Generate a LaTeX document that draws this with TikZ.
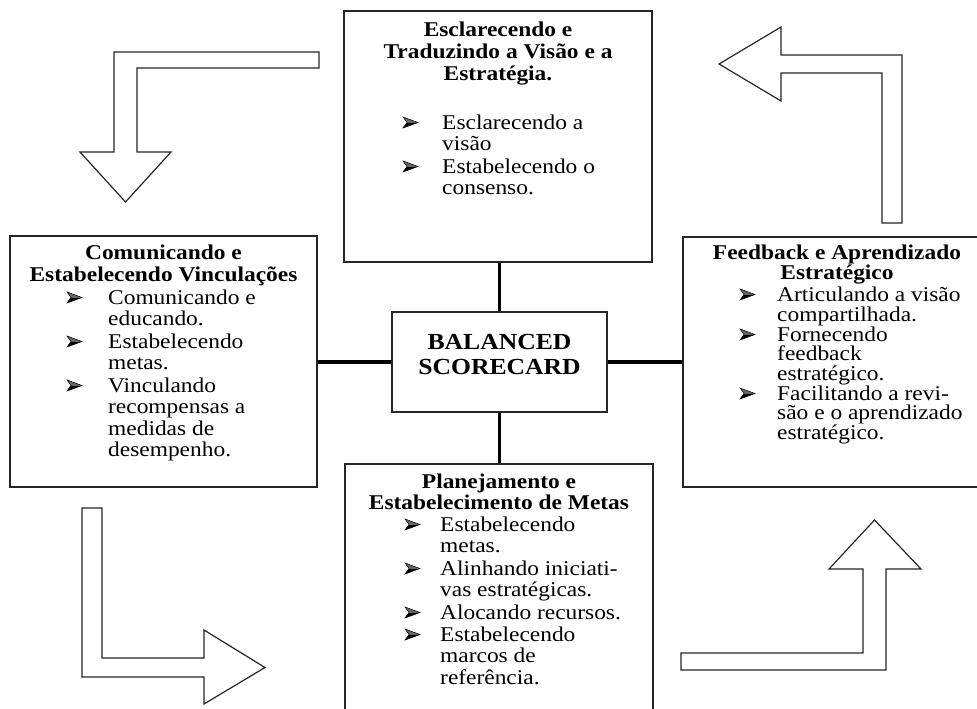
\documentclass[tikz,border=0pt]{standalone}
\usepackage{fontspec}
\setmainfont{Liberation Serif}[FakeStretch=1.115]
\newcommand{\bodyfont}{\fontsize{21}{22}\selectfont}
\newcommand{\bigfont}{\fontsize{23}{25}\selectfont\bfseries}
\newcommand{\bodylines}[3]{%
  \foreach \myy/\mytext [count=\i] in {#3}
    \node[txt] (#1\i) at (#2,\myy) {\mytext};}
\newcommand{\bulletmarks}[2]{%
  \foreach \myy in {#2}
    \pic at (#1,\myy-6.5) {dart};}
\newcommand{\titlelines}[3]{%
  \foreach \myy/\mytext [count=\i] in {#3}
    \node[ttl] (#1\i) at (#2,\myy) {\mytext};}
\begin{document}
\begin{tikzpicture}[x=1pt,y=-1pt,
  box/.style={draw=black!85, line width=1.1pt, rectangle, inner sep=0pt},
  link/.style={draw=black, line width=3.2pt},
  bendarrow/.style={draw=black!85, line width=1.2pt, fill=white, line join=miter},
  txt/.style={anchor=base west, inner sep=0pt, font=\bodyfont},
  ttl/.style={anchor=base, inner sep=0pt, font=\bodyfont\bfseries},
  ctr/.style={anchor=base, inner sep=0pt, font=\bigfont},
  dart/.pic={
    \fill[black!60] (0,-5.5) -- (15,0) -- (4,0) -- cycle;
    \fill[black] (0,5.5) -- (15,0) -- (4,0) -- cycle;
    \draw[black, line width=0.5pt, line join=miter] (0,-5.5) -- (15,0) -- (0,5.5) -- (4,0) -- cycle;
  }]
\useasboundingbox (0,0) rectangle (977,709);
\clip (0,0) rectangle (977,709);
\fill[white] (0,0) rectangle (977,709);

% boxes
\node[box, minimum width=308pt, minimum height=251pt] (top) at (498,136.5) {};
\node[box, minimum width=307pt, minimum height=251pt] (left) at (163.5,361.5) {};
\node[box, minimum width=308pt, minimum height=250pt] (right) at (837,362) {};
\node[box, minimum width=308pt, minimum height=266pt] (bot) at (499,597) {};
\node[box, minimum width=215pt, minimum height=100pt] (bsc) at (499.5,362) {};

% connectors
\draw[link] (bsc.north) -- (bsc.north |- top.south);
\draw[link] (bsc.south) -- (bsc.south |- bot.north);
\draw[link] (bsc.west) -- (bsc.west -| left.east);
\draw[link] (bsc.east) -- (bsc.east -| right.west);

% centre text
\node[ctr] (bsc1) at (499.5,349) {BALANCED};
\node[ctr] (bsc2) at (499.5,374) {SCORECARD};

% top box
\titlelines{tt}{498}{37/Esclarecendo e, 59/Traduzindo a Visão e a, 81/Estratégia.}
\bulletmarks{403}{129,173}
\bodylines{tl}{442}{129/Esclarecendo a, 150/visão, 173/Estabelecendo o, 194/consenso.}

% left box
\titlelines{lt}{163.5}{259/Comunicando e, 281/Estabelecendo Vinculações}
\bulletmarks{67}{304,348,392}
\bodylines{ll}{108}{304/Comunicando e, 325.5/educando., 348/Estabelecendo, 369.5/metas., 392/Vinculando, 413.5/recompensas a, 435/medidas de, 456.5/desempenho.}

% right box
\titlelines{rt}{837}{259/Feedback e Aprendizado, 279.5/Estratégico}
\bulletmarks{740}{301,341,400}
\bodylines{rl}{777}{301/Articulando a visão, 321/compartilhada., 341/Fornecendo, 360.5/feedback, 380/estratégico., 400/Facilitando a revi-, 419.5/são e o aprendizado, 439/estratégico.}

% bottom box
\titlelines{bt}{499}{488/Planejamento e, 509/Estabelecimento de Metas}
\bulletmarks{405}{531,575,619,641}
\bodylines{bl}{440}{531/Estabelecendo, 552.5/metas., 575/Alinhando iniciati-, 596.5/vas estratégicas., 619/Alocando recursos., 641/Estabelecendo, 662.5/marcos de, 684/referência.}

% bent block arrows
\draw[bendarrow] (319,52) -- (114,52) -- (114,152) -- (80,152) -- (125.5,202) -- (171,152) -- (137,152) -- (137,68) -- (319,68) -- cycle;
\draw[bendarrow] (902,223) -- (902,55) -- (781,55) -- (781,27) -- (719,64) -- (781,101) -- (781,73) -- (882,73) -- (882,223) -- cycle;
\draw[bendarrow] (82,508) -- (102,508) -- (102,658) -- (204,658) -- (204,630) -- (265,667.5) -- (204,704) -- (204,677) -- (82,677) -- cycle;
\draw[bendarrow] (681,653) -- (863,653) -- (863,569) -- (829,569) -- (874.5,520) -- (921,569) -- (886,569) -- (886,670) -- (681,670) -- cycle;
\end{tikzpicture}
\end{document}
